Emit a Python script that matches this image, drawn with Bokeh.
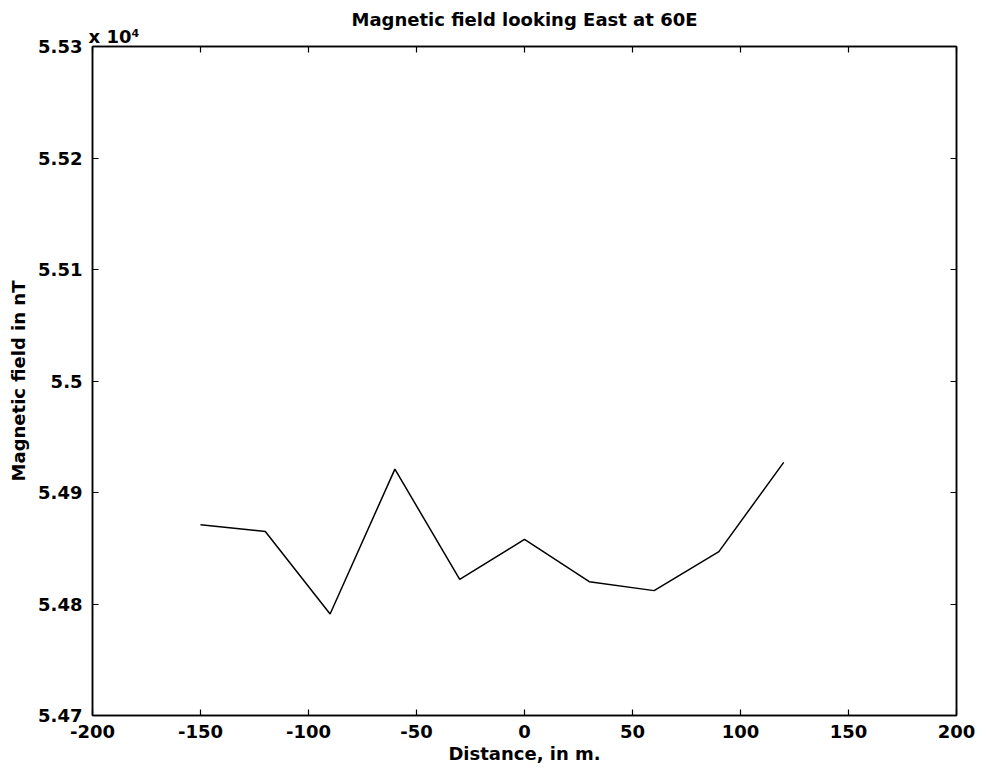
from bokeh.plotting import figure
from bokeh.models import LinearAxis, FixedTicker, Range1d, CustomJSTickFormatter, Title
from bokeh.embed import file_html
from bokeh.resources import INLINE

# ---- data ----
distance_m = [-150, -120, -90, -60, -30, 0, 30, 60, 90, 120]
field_nT = [54871, 54865, 54791, 54921, 54822, 54858, 54820, 54812, 54847, 54927]

x_ticks = [-200, -150, -100, -50, 0, 50, 100, 150, 200]
x_tick_labels = ["-200", "-150", "-100", "-50", "0", "50", "100", "150", "200"]
y_ticks = [54700, 54800, 54900, 55000, 55100, 55200, 55300]
y_tick_labels = ["5.47", "5.48", "5.49", "5.5", "5.51", "5.52", "5.53"]

title_text = "Magnetic field looking East at 60E"
x_label = "Distance, in m."
y_label = "Magnetic field in nT"
exponent_text = "x 10\u2074"

FONT = "DejaVu Sans"
FS = "18px"

p = figure(width=981, height=777, output_backend="svg", toolbar_location=None,
           x_range=Range1d(-200, 200), y_range=Range1d(54700, 55300),
           min_border_left=92, min_border_right=25, min_border_top=46, min_border_bottom=62)
p.background_fill_color = "white"
p.border_fill_color = "white"
p.xgrid.visible = False
p.ygrid.visible = False
p.outline_line_color = "black"
p.outline_line_width = 1.5

blank = CustomJSTickFormatter(code="return '';")

def style_axis(ax, show_labels):
    ax.major_tick_in = 6
    ax.major_tick_out = 0
    ax.minor_tick_in = 0
    ax.minor_tick_out = 0
    ax.axis_line_color = "black"
    ax.axis_line_width = 1.5
    ax.major_tick_line_color = "black"
    ax.major_tick_line_width = 1.2
    ax.major_label_text_font = FONT
    ax.major_label_text_font_style = "bold"
    ax.major_label_text_color = "black"
    ax.major_label_text_font_size = FS
    ax.axis_label_text_font = FONT
    ax.axis_label_text_font_size = FS
    ax.axis_label_text_font_style = "bold"
    ax.axis_label_text_color = "black"
    if not show_labels:
        ax.formatter = blank
        ax.major_label_standoff = 0
        ax.major_label_text_font_size = "1px"

xax = p.xaxis[0]
xax.ticker = FixedTicker(ticks=x_ticks)
style_axis(xax, True)
xax.major_label_overrides = dict(zip(x_ticks, x_tick_labels))
xax.axis_label = x_label
xax.major_label_standoff = 9
xax.axis_label_standoff = 2

yax = p.yaxis[0]
yax.ticker = FixedTicker(ticks=y_ticks)
style_axis(yax, True)
yax.major_label_overrides = dict(zip(y_ticks, y_tick_labels))
yax.axis_label = y_label
yax.major_label_standoff = 10
yax.axis_label_standoff = 6

top_ax = LinearAxis(ticker=FixedTicker(ticks=x_ticks))
style_axis(top_ax, False)
p.add_layout(top_ax, "above")

right_ax = LinearAxis(ticker=FixedTicker(ticks=y_ticks))
style_axis(right_ax, False)
p.add_layout(right_ax, "right")

# exponent marker, left-aligned just above the frame
exp_title = Title(text=exponent_text, align="left", offset=-4, standoff=0,
                  text_font=FONT, text_font_size=FS, text_font_style="bold",
                  text_color="black")
p.add_layout(exp_title, "above")

p.title.text = title_text
p.title.align = "center"
p.title.text_font = FONT
p.title.text_font_size = FS
p.title.text_font_style = "bold"
p.title.text_color = "black"
p.title.standoff = -12

p.line(distance_m, field_nT, line_color="black", line_width=1.5)

open("out.html", "w").write(file_html(p, INLINE))
